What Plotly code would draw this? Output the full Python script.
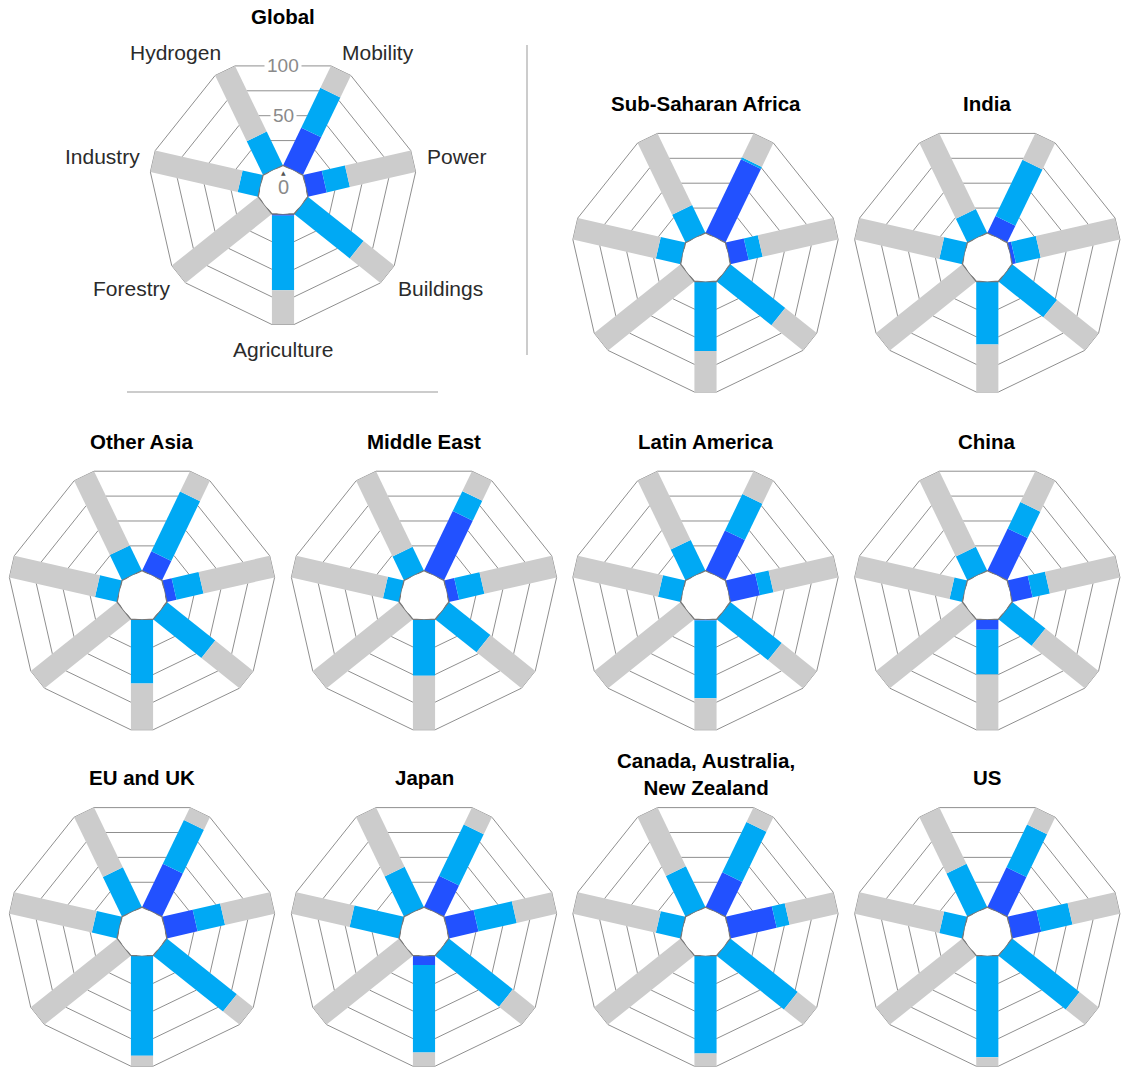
import math
import plotly.graph_objects as go

# Categories, in order around the chart (counterclockwise from the bottom)
categories = ["Agriculture", "Buildings", "Power", "Mobility", "Hydrogen", "Industry", "Forestry"]

regions = [
    "Global", "Sub-Saharan Africa", "India",
    "Other Asia", "Middle East", "Latin America", "China",
    "EU and UK", "Japan", "Canada, Australia,<br>New Zealand", "US",
]

# dark blue segment, % (same category order)
dark_blue = [
    [1.5, 0, 17.5, 38, 0, 0, 0],
    [0, 0, 17, 74, 0, 0, 0],
    [0, 0, 3.5, 17, 0, 0, 0],
    [0, 0, 9, 19.5, 0, 0, 0],
    [0, 0, 9.5, 60, 0, 0, 0],
    [1, 0, 27.5, 40.5, 0, 0, 0],
    [9.5, 0, 19, 42.5, 0, 0, 0],
    [0, 0, 28.5, 43.5, 0, 0, 0],
    [8.5, 0, 27.5, 31.5, 0, 0, 0],
    [0, 0, 43, 35, 0, 0, 0],
    [0, 0, 27, 40, 0, 0, 0],
]

# light blue segment, % (stacked on top of dark blue)
light_blue = [
    [67.5, 64.5, 21.5, 40, 34, 19, 0],
    [63, 63.5, 13, 2, 28, 23, 0],
    [57, 52, 23, 56.5, 24, 21.5, 0],
    [58, 56, 25, 60, 25.5, 20.5, 0],
    [51, 48, 23.5, 20, 24, 15, 0],
    [70.5, 59.5, 12.5, 36.5, 31, 21, 0],
    [40.5, 38.5, 16, 26.5, 24, 12, 0],
    [90.5, 81, 25.5, 44, 40, 23.5, 0],
    [79, 74, 35.5, 51.5, 40.5, 46, 0],
    [88.5, 78, 12, 50.5, 41, 23, 0],
    [92, 78, 29, 43, 43.5, 21.5, 0],
]

grid_levels = [25, 50, 75, 100]
axis_ticks = [50, 100]

# chart centres in page pixels
centers = [
    (283, 191), (705.5, 258.5), (987.3, 258.5),
    (142, 596.3), (424, 596.3), (705.5, 596.3), (987.3, 596.3),
    (142, 932.7), (424, 932.7), (705.5, 932.7), (987.3, 932.7),
]

# where the Global category labels sit, relative to its centre (dx, dy, anchor)
label_place = [(0, 159, "center"), (113, 97, "left"), (142, -34, "left"), (57, -139, "left"),
               (-60, -139, "right"), (-141, -34, "right"), (-110, 97, "right")]

W, H = 1131, 1070
R_IN, R_OUT = 23.0, 133.5            # pixel radius of 0 and 100
HALF_W = R_IN * math.tan(math.pi / 7)
DARK, LIGHT, GREY = "#2251FF", "#00A9F4", "#CCCCCC"
FONT = "Liberation Sans"

theta = [(270 + k * 360 / 7) % 360 for k in range(len(categories))]


def px(x, y):
    return x / W, 1 - y / H


def px_to_r(p):
    return (p - R_IN) / (R_OUT - R_IN) * 100


def level_polygon(level):
    d = R_IN + (R_OUT - R_IN) * level / 100
    rho = math.hypot(d, HALF_W)
    delta = math.degrees(math.atan2(HALF_W, d))
    t = []
    for a in theta:
        t += [a - delta, a + delta]
    t.append(t[0])
    return [px_to_r(rho)] * len(t), t, rho, delta


def segments(starts, ends):
    r, t = [], []
    for k in range(len(categories)):
        if ends[k] > starts[k]:
            r += [starts[k], ends[k], None]
            t += [theta[k], theta[k], None]
    return r, t


fig = go.Figure()
annotations = []

for i, region in enumerate(regions):
    key = "polar" if i == 0 else f"polar{i + 1}"
    cx, cy = centers[i]
    rd = 136
    x0, y1 = px(cx - rd, cy - rd)
    x1, y0 = px(cx + rd, cy + rd)
    fig.update_layout({key: dict(
        domain=dict(x=[max(x0, 0), min(x1, 1)], y=[max(y0, 0), min(y1, 1)]),
        hole=R_IN / rd,
        bgcolor="rgba(0,0,0,0)",
        radialaxis=dict(range=[0, px_to_r(rd)], visible=False),
        angularaxis=dict(visible=False, rotation=0, direction="counterclockwise"),
    )})

    # grid
    for lv in grid_levels:
        r, t, _, _ = level_polygon(lv)
        fig.add_trace(go.Scatterpolar(r=r, theta=t, mode="lines", subplot=key,
                                      line=dict(color="#8f8f8f", width=1),
                                      cliponaxis=False, hoverinfo="skip"))

    d = dark_blue[i]
    top = [d[k] + light_blue[i][k] for k in range(len(categories))]
    for starts, ends, col in [([0] * 7, d, DARK), (d, top, LIGHT), (top, [100] * 7, GREY)]:
        r, t = segments(starts, ends)
        fig.add_trace(go.Scatterpolar(r=r, theta=t, mode="lines", subplot=key,
                                      line=dict(color=col, width=2 * HALF_W),
                                      connectgaps=False, cliponaxis=False, hoverinfo="skip"))

    # hole outline
    r, t, _, _ = level_polygon(0)
    fig.add_trace(go.Scatterpolar(r=r, theta=t, mode="lines", subplot=key,
                                  line=dict(color="#777777", width=1.3),
                                  cliponaxis=False, hoverinfo="skip"))

    ty = 17 if i == 0 else (773.5 if "<br>" in region else cy - 155)
    ax, ay = px(cx, ty)
    annotations.append(dict(x=ax, y=ay, xref="paper", yref="paper",
                            text=f"<b>{region}</b>", showarrow=False,
                            xanchor="center", yanchor="middle",
                            font=dict(family=FONT, size=20.5, color="#000000")))

# category labels around the Global chart
gx, gy = centers[0]
for name, (dx, dy, anchor) in zip(categories, label_place):
    lx, ly = px(gx + dx, gy + dy)
    annotations.append(dict(x=lx, y=ly, xref="paper", yref="paper", text=name, showarrow=False,
                            xanchor=anchor, yanchor="middle",
                            font=dict(family=FONT, size=21, color="#2b2b2b")))

# axis values on the Global chart
for tk in axis_ticks:
    _, _, rho, delta = level_polygon(tk)
    edge = rho * math.cos(math.radians(180 / 7 - delta))
    tx, tyy = px(gx, gy - edge)
    annotations.append(dict(x=tx, y=tyy, xref="paper", yref="paper",
                            text=str(tk), showarrow=False, bgcolor="white", borderpad=2,
                            xanchor="center", yanchor="middle",
                            font=dict(family=FONT, size=19, color="#8a8a8a")))
zx, zy = px(gx, gy - 3.7)
annotations.append(dict(x=zx, y=zy, xref="paper", yref="paper",
                        text="0", showarrow=False, xanchor="center", yanchor="middle",
                        font=dict(family=FONT, size=20, color="#8a8a8a")))
zx, zy = px(gx, gy - 19)
annotations.append(dict(x=zx, y=zy, xref="paper", yref="paper",
                        text="▲", showarrow=False, xanchor="center", yanchor="middle",
                        font=dict(family="DejaVu Sans", size=6, color="#555555")))

vx0, vy0 = px(527, 45)
vx1, vy1 = px(527, 355)
hx0, hy0 = px(127, 392)
hx1, hy1 = px(438, 392)
fig.update_layout(
    width=W, height=H,
    margin=dict(l=0, r=0, t=0, b=0),
    paper_bgcolor="white",
    showlegend=False,
    annotations=annotations,
    shapes=[
        dict(type="line", xref="paper", yref="paper", x0=vx0, x1=vx1, y0=vy0, y1=vy1,
             line=dict(color="#999999", width=1)),
        dict(type="line", xref="paper", yref="paper", x0=hx0, x1=hx1, y0=hy0, y1=hy1,
             line=dict(color="#999999", width=1)),
    ],
)

# drop the browser's default page margin so the figure fills the window
fig.write_html("out.html", config={"displayModeBar": False},
               post_script="document.body.style.margin = '0';")
